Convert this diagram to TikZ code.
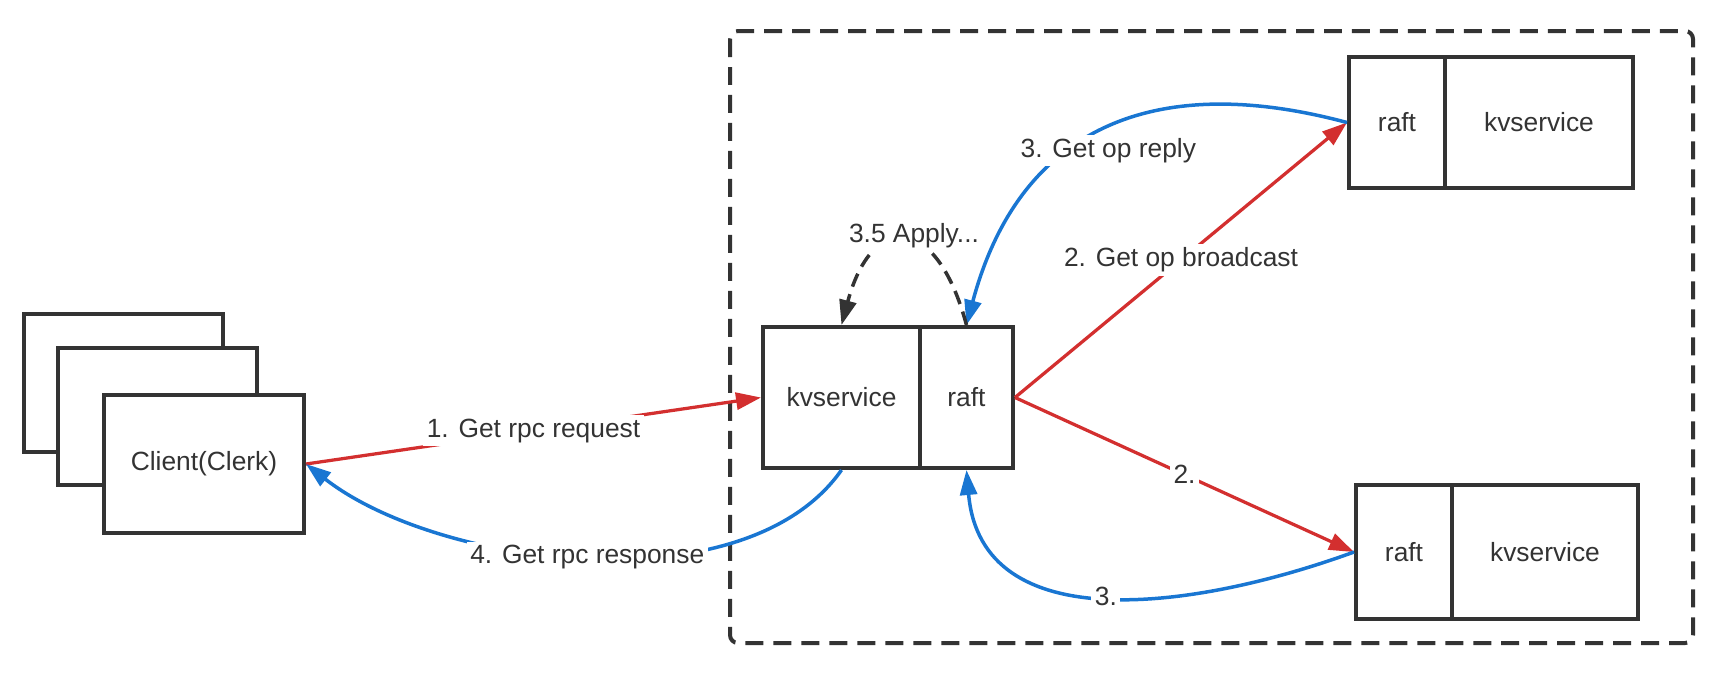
\documentclass[tikz,border=0pt]{standalone}
\usepackage{fontspec}
\setmainfont{Liberation Sans}
\usetikzlibrary{arrows.meta,positioning}
\definecolor{ink}{HTML}{333333}
\definecolor{reqred}{HTML}{D32F2F}
\definecolor{repblue}{HTML}{1976D2}
\tikzset
{
	box/.style = {rectangle, draw=ink, line width=0.08cm, fill=white, align=center, inner sep=0pt, text=ink, font=\fontsize{15pt}{18pt}\selectfont},
	clientbox/.style = {box, minimum width=4cm, minimum height=2.76cm},
	groupbox/.style = {draw=ink, line width=0.08cm, dash pattern=on 0.36cm off 0.2cm, rounded corners=0.16cm},
	reqarrow/.style = {draw=reqred, line width=0.065cm, -{Triangle[length=0.5cm, width=0.34cm]}},
	reparrow/.style = {draw=repblue, line width=0.07cm, -{Triangle[length=0.5cm, width=0.34cm]}},
	applyarrow/.style = {draw=ink, line width=0.07cm, dash pattern=on 0.28cm off 0.16cm, -{Triangle[length=0.5cm, width=0.34cm]}},
	edgelabel/.style = {fill=white, inner sep=2pt, text=ink, font=\fontsize{15pt}{18pt}\selectfont}
}

\begin{document}
\begin{tikzpicture}[x=0.02cm, y=-0.02cm]
\useasboundingbox (0,0) rectangle (1714,674);
% server group
\draw[groupbox] (730,31) rectangle (1693,643);
% clients
\node[clientbox] (clientC) at (123.5,383) {};
\node[clientbox] (clientB) at (157.5,416.5) {};
\node[clientbox] (client) at (204,464) {Client(Clerk)};
% leader
\node[box, minimum width=3.14cm, minimum height=2.82cm] (kv) at (841.5,397.5) {kvservice};
\node[box, minimum width=1.86cm, minimum height=2.82cm, right=-0.08cm of kv] (raft) {raft};
% followers
\node[box, minimum width=1.92cm, minimum height=2.62cm] (raftA) at (1397,122.5) {raft};
\node[box, minimum width=3.76cm, minimum height=2.62cm, right=-0.08cm of raftA] (kvA) {kvservice};
\node[box, minimum width=1.92cm, minimum height=2.68cm] (raftB) at (1404,552) {raft};
\node[box, minimum width=3.72cm, minimum height=2.68cm, right=-0.08cm of raftB] (kvB) {kvservice};
% requests
\draw[reqarrow] (client.east) -- node[edgelabel] (lreq) {1. Get rpc request} (kv.west);
\draw[reqarrow] (raft.east) -- node[edgelabel] (lbcast) {2. Get op broadcast} (raftA.west);
\draw[reqarrow] (raft.east) -- node[edgelabel] (lbcastB) {2.} (raftB.west);
% replies
\draw[reparrow] (raftA.west) to[out=165, in=75, looseness=1.2] node[edgelabel, pos=0.55, xshift=0.48cm, yshift=-0.18cm] (lreply) {3. Get op reply} (raft.north);
\draw[reparrow] (raftB.west) to[out=-160, in=-85, looseness=1.1] node[edgelabel] (lreplyB) {3.} (raft.south);
\draw[applyarrow] (raft.north) to[out=105, in=75, looseness=2.4] node[edgelabel, xshift=0.2cm, yshift=0.1cm] (lapply) {3.5 Apply...} (kv.north);
\draw[reparrow] (kv.south) to[out=-125, in=-38, looseness=0.8] node[edgelabel] (lresp) {4. Get rpc response} (client.east);
\end{tikzpicture}
\end{document}
